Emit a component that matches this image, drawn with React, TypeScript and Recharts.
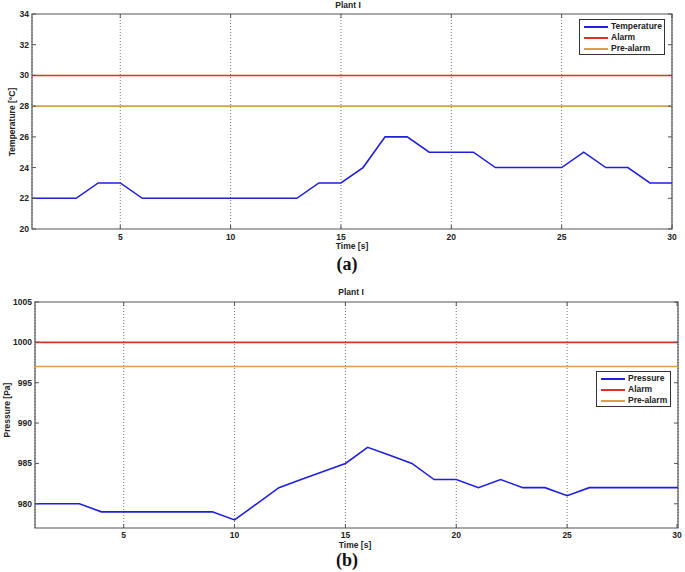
import { LineChart, Line, XAxis, YAxis, CartesianGrid, ReferenceLine, ReferenceArea, Legend } from 'recharts';

// time axis (s)
const time = [1, 2, 3, 4, 5, 6, 7, 8, 9, 10, 11, 12, 13, 14, 15, 16, 17, 18, 19, 20, 21, 22, 23, 24, 25, 26, 27, 28, 29, 30];
const temperature = [22, 22, 22, 23, 23, 22, 22, 22, 22, 22, 22, 22, 22, 23, 23, 24, 26, 26, 25, 25, 25, 24, 24, 24, 24, 25, 24, 24, 23, 23];
const pressure = [980, 980, 980, 979, 979, 979, 979, 979, 979, 978, 980, 982, 983, 984, 985, 987, 986, 985, 983, 983, 982, 983, 982, 982, 981, 982, 982, 982, 982, 982];

const xTicks = [5, 10, 15, 20, 25, 30];
const tempTicks = [20, 22, 24, 26, 28, 30, 32, 34];
const pressureTicks = [980, 985, 990, 995, 1000, 1005];

const tempAlarm = 30;
const tempPreAlarm = 28;
const pressureAlarm = 1000;
const pressurePreAlarm = 997;

const BLUE = '#1f1fdc';
const RED = '#e0302c';
const ORANGE = '#d9a048';
const AXIS = '#555';
const FONT = '"Liberation Sans Narrow", "Liberation Sans", Arial, sans-serif';

const tempData = time.map((t, i) => ({ t, v: temperature[i] }));
const pressureData = time.map((t, i) => ({ t, v: pressure[i] }));

type Frame = { left: number; right: number; top: number; bottom: number; labelGap: number };

// matlab style ticks: pointing inward, on both sides of the box
const makeXTick = (f: Frame) => (props: any) => {
    const { x, payload } = props;
    return (
        <g>
            <line x1={x} x2={x} y1={f.bottom} y2={f.bottom - 4} stroke={AXIS} />
            <line x1={x} x2={x} y1={f.top} y2={f.top + 4} stroke={AXIS} />
            <text x={x} y={f.bottom + f.labelGap} textAnchor="middle" dominantBaseline="central"
                fontFamily={FONT} fontSize={8.5} fontWeight="bold" fill="#222">
                {payload.value}
            </text>
        </g>
    );
};

const makeYTick = (f: Frame) => (props: any) => {
    const { y, payload } = props;
    return (
        <g>
            <line x1={f.left} x2={f.left + 4} y1={y} y2={y} stroke={AXIS} />
            <line x1={f.right - 4} x2={f.right} y1={y} y2={y} stroke={AXIS} />
            <text x={f.left - 3} y={y} textAnchor="end" dominantBaseline="central"
                fontFamily={FONT} fontSize={8.5} fontWeight="bold" fill="#222">
                {payload.value}
            </text>
        </g>
    );
};

const makeLegend = (label: string, width: number) => () => (
    <div style={{
        boxSizing: 'border-box', width, height: 36,
        border: '1px solid #333', background: '#fff', padding: '1px 0 0 4px',
        fontFamily: FONT, fontSize: 8.5, fontWeight: 'bold', color: '#222', lineHeight: '11px', whiteSpace: 'nowrap',
    }}>
        {[[label, BLUE], ['Alarm', RED], ['Pre-alarm', ORANGE]].map(([name, color]) => (
            <div key={name} style={{ display: 'flex', alignItems: 'center' }}>
                <span style={{ display: 'inline-block', width: 24, height: 2, background: color, marginRight: 3, flexShrink: 0 }} />
                <span>{name}</span>
            </div>
        ))}
    </div>
);

const textStyle: React.CSSProperties = {
    position: 'absolute', fontFamily: FONT, fontSize: 8.5, fontWeight: 'bold', color: '#222', whiteSpace: 'nowrap',
};

const panelStyle: React.CSSProperties = {
    position: 'absolute', transform: 'translate(-50%, -50%)',
    fontFamily: '"Liberation Serif", serif', fontSize: 18, fontWeight: 'bold', color: '#111',
};

const topFrame: Frame = { left: 32, right: 672, top: 14, bottom: 229, labelGap: 7.5 };
const botFrame: Frame = { left: 35, right: 678, top: 14, bottom: 240, labelGap: 6.5 };

export default function App() {
    return (
        <div style={{ position: 'absolute', left: 0, top: 0, width: 685, height: 572, background: '#fff' }}>
            {/* (a) temperature */}
            <div style={{ position: 'absolute', left: 0, top: 0 }}>
                <LineChart width={685} height={260} data={tempData} margin={{ top: 14, right: 13, left: 0, bottom: 0 }}>
                    <CartesianGrid horizontal={false} strokeDasharray="1 2" stroke="#777" />
                    <XAxis dataKey="t" type="number" domain={[1, 30]} ticks={xTicks} height={31}
                        axisLine={false} tickLine={false} tickSize={0} tick={makeXTick(topFrame)} />
                    <YAxis type="number" domain={[20, 34]} ticks={tempTicks} width={32}
                        axisLine={false} tickLine={false} tickSize={0} tick={makeYTick(topFrame)} />
                    <ReferenceArea x1={1} x2={30} y1={20} y2={34} fill="none" stroke={AXIS} strokeWidth={1.2} />
                    <ReferenceLine y={tempAlarm} stroke={RED} strokeWidth={1.6} />
                    <ReferenceLine y={tempPreAlarm} stroke={ORANGE} strokeWidth={1.6} />
                    <Line dataKey="v" stroke={BLUE} strokeWidth={1.6} dot={false} isAnimationActive={false} />
                    <Legend content={makeLegend('Temperature', 86)} layout="vertical" align="center" verticalAlign="middle"
                        wrapperStyle={{ position: 'absolute', left: 579, top: 19, width: 86, height: 36 }} />
                </LineChart>
                <div style={{ ...textStyle, left: 348, top: 5, transform: 'translate(-50%, -50%)' }}>Plant I</div>
                <div style={{ ...textStyle, left: 352, top: 246, transform: 'translate(-50%, -50%)' }}>Time [s]</div>
                <div style={{ ...textStyle, left: 12, top: 122, transform: 'translate(-50%, -50%) rotate(-90deg)' }}>Temperature [°C]</div>
                <div style={{ ...panelStyle, left: 347, top: 264 }}>(a)</div>
            </div>

            {/* (b) pressure */}
            <div style={{ position: 'absolute', left: 0, top: 288 }}>
                <LineChart width={685} height={270} data={pressureData} margin={{ top: 14, right: 7, left: 0, bottom: 0 }}>
                    <CartesianGrid horizontal={false} strokeDasharray="1 2" stroke="#777" />
                    <XAxis dataKey="t" type="number" domain={[1, 30]} ticks={xTicks} height={30}
                        axisLine={false} tickLine={false} tickSize={0} tick={makeXTick(botFrame)} />
                    <YAxis type="number" domain={[977, 1005]} ticks={pressureTicks} width={35}
                        axisLine={false} tickLine={false} tickSize={0} tick={makeYTick(botFrame)} />
                    <ReferenceArea x1={1} x2={30} y1={977} y2={1005} fill="none" stroke={AXIS} strokeWidth={1.2} />
                    <ReferenceLine y={pressureAlarm} stroke={RED} strokeWidth={1.6} />
                    <ReferenceLine y={pressurePreAlarm} stroke={ORANGE} strokeWidth={1.6} />
                    <Line dataKey="v" stroke={BLUE} strokeWidth={1.6} dot={false} isAnimationActive={false} />
                    <Legend content={makeLegend('Pressure', 75)} layout="vertical" align="center" verticalAlign="middle"
                        wrapperStyle={{ position: 'absolute', left: 596, top: 83, width: 75, height: 36 }} />
                </LineChart>
                <div style={{ ...textStyle, left: 351, top: 4, transform: 'translate(-50%, -50%)' }}>Plant I</div>
                <div style={{ ...textStyle, left: 355, top: 257, transform: 'translate(-50%, -50%)' }}>Time [s]</div>
                <div style={{ ...textStyle, left: 7, top: 122, transform: 'translate(-50%, -50%) rotate(-90deg)' }}>Pressure [Pa]</div>
                <div style={{ ...panelStyle, left: 347, top: 272 }}>(b)</div>
            </div>
        </div>
    );
}
